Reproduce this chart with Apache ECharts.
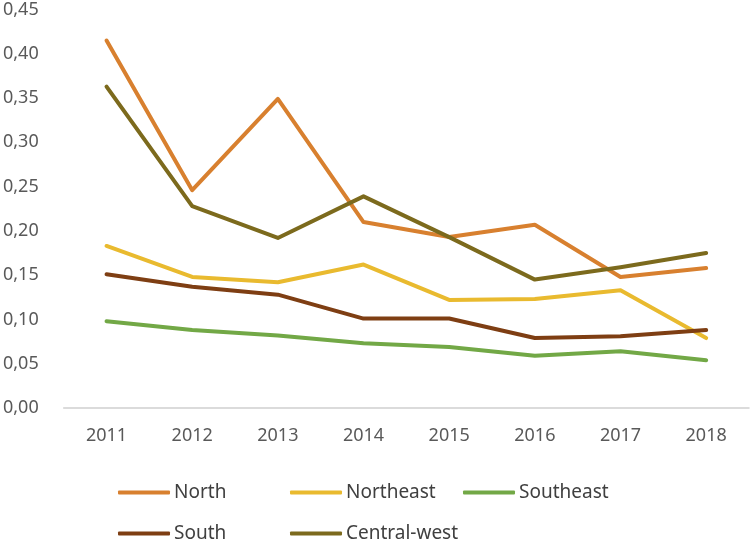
<!DOCTYPE html>
<html><head><meta charset="utf-8">
<script src="https://cdn.jsdelivr.net/npm/echarts@6/dist/echarts.min.js"></script>
<style>html,body{margin:0;padding:0;background:#fff}#c{width:750px;height:542px}</style>
</head><body><div id="c"></div>
<script>
const years = ['2011','2012','2013','2014','2015','2016','2017','2018'];
const north = [0.415,0.246,0.349,0.210,0.193,0.207,0.148,0.158];
const northeast = [0.183,0.148,0.142,0.162,0.122,0.123,0.133,0.079];
const southeast = [0.098,0.088,0.082,0.073,0.069,0.059,0.064,0.054];
const south = [0.151,0.137,0.128,0.101,0.101,0.079,0.081,0.088];
const centralWest = [0.363,0.228,0.192,0.239,0.193,0.145,0.159,0.175];
const names = ['North','Northeast','Southeast','South','Central-west'];
const colors = ['#D8802F','#E9BA2F','#72A846','#7E3E13','#7C6A1D'];
const dataSets = [north,northeast,southeast,south,centralWest];
const font = 'Noto Sans';
const chart = echarts.init(document.getElementById('c'));
const legendPos = [[113,478],[285,478],[458,478],[113,519],[285,519]];
chart.setOption({
  animation:false,
  grid:{left:63,right:1,top:9.5,bottom:134,containLabel:false},
  xAxis:{type:'category',data:years,boundaryGap:true,
    axisLine:{lineStyle:{color:'#D0D0D0',width:1.5}},axisTick:{show:false},
    axisLabel:{color:'#595959',fontSize:18,fontFamily:font,margin:19}},
  yAxis:{type:'value',min:0,max:0.45,interval:0.05,
    splitLine:{show:false},axisLine:{show:false},axisTick:{show:false},
    axisLabel:{color:'#595959',fontSize:18,fontFamily:font,margin:25,
      formatter:v=>v.toFixed(2).replace('.',',')}},
  legend:names.map((n,i)=>({data:[n],left:legendPos[i][0],top:legendPos[i][1],
    itemWidth:52,itemHeight:4,itemGap:4,icon:'roundRect',
    textStyle:{color:'#404040',fontSize:19,fontFamily:font,padding:[0,0,0,-1]}})),
  series:names.map((n,i)=>({name:n,type:'line',data:dataSets[i],showSymbol:false,symbol:'none',
    lineStyle:{color:colors[i],width:4,cap:'round',join:'round'},itemStyle:{color:colors[i]}}))
});
</script></body></html>
